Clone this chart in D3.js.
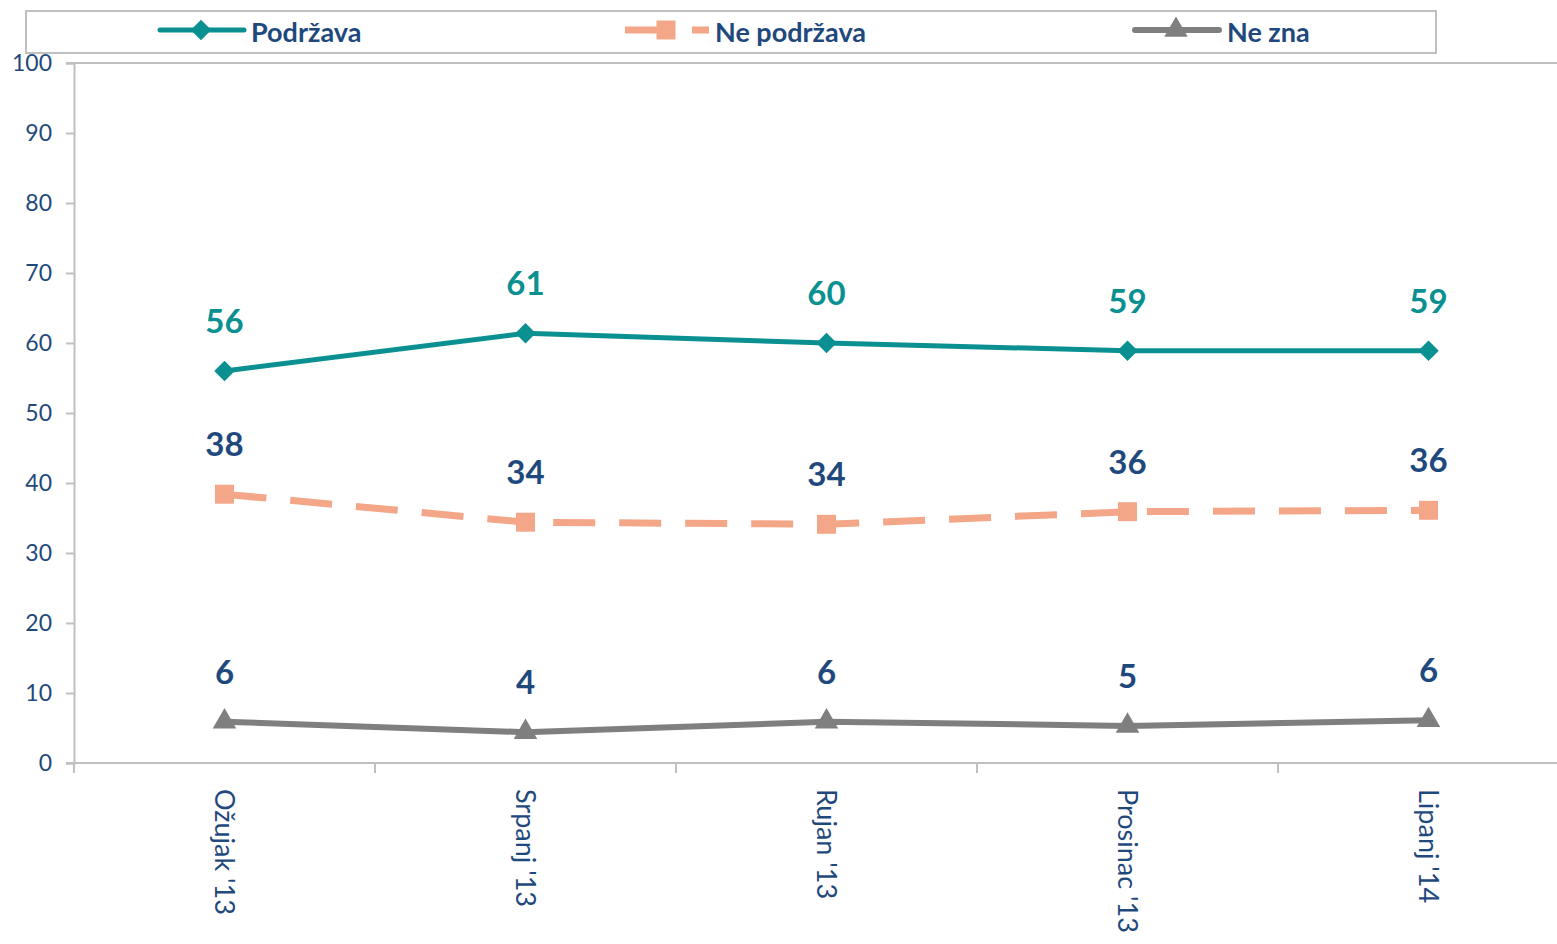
<!DOCTYPE html>
<html>
<head>
<meta charset="utf-8">
<script src="https://cdn.jsdelivr.net/npm/d3@7"></script>
<style>
  body { margin: 0; background: #fff; }
  svg { display: block; font-family: Lato, "Open Sans", sans-serif; }
</style>
</head>
<body>
<svg id="chart" width="1557" height="944"></svg>
<script>
// data
var months = ["Ožujak '13", "Srpanj '13", "Rujan '13", "Prosinac '13", "Lipanj '14"];
var podrzava = [56, 61.4, 60, 58.9, 58.9];
var nePodrzava = [38.4, 34.4, 34.1, 35.9, 36.1];
var neZna = [5.9, 4.4, 5.9, 5.3, 6.1];
var yTicks = [0, 10, 20, 30, 40, 50, 60, 70, 80, 90, 100];

var series = [
  {name: "Podržava", values: podrzava, color: "#0a9090", label: "#0a9090", dash: null, width: 5, symbol: d3.symbolSquare, rot: 45, size: 210},
  {name: "Ne podržava", values: nePodrzava, color: "#f4a688", label: "#1f497d", dash: "42,24", width: 7, symbol: d3.symbolSquare, rot: 0, size: 360},
  {name: "Ne zna", values: neZna, color: "#7f7f7f", label: "#1f497d", dash: null, width: 6, symbol: d3.symbolTriangle, rot: 0, size: 240}
];

var svg = d3.select("#chart"),
  margin = {top: 63, left: 74},
  plotW = 1505,
  plotH = 700,
  g = svg.append("g").attr("transform", "translate(" + margin.left + "," + margin.top + ")");

var x = d3.scaleBand().domain(months).range([0, plotW]);
var y = d3.scaleLinear().domain([0, 100]).range([plotH, 0]);

// top border of plot area
g.append("line")
  .attr("x1", -8).attr("x2", 1557)
  .attr("y1", 0).attr("y2", 0)
  .attr("stroke", "#c0c0c0").attr("stroke-width", 2);

// y axis
var yAxis = g.append("g")
  .call(d3.axisLeft(y).tickValues(yTicks).tickSize(8).tickPadding(14));
yAxis.select(".domain").attr("stroke", "#c0c0c0").attr("stroke-width", 2);
yAxis.selectAll(".tick line").attr("stroke", "#c0c0c0").attr("stroke-width", 2);
yAxis.selectAll("text")
  .attr("fill", "#1f497d")
  .style("font-size", "23px")
  .style("font-family", "Lato, 'Open Sans', sans-serif");

// x axis: ticks sit between categories
var xAxisG = g.append("g").attr("transform", "translate(0," + plotH + ")");
xAxisG.append("line")
  .attr("x1", -8).attr("x2", 1557)
  .attr("stroke", "#c0c0c0").attr("stroke-width", 2);
xAxisG.selectAll(".xtick")
  .data(months)
  .enter().append("line")
    .attr("class", "xtick")
    .attr("x1", function(d) { return x(d); })
    .attr("x2", function(d) { return x(d); })
    .attr("y1", 0).attr("y2", 10)
    .attr("stroke", "#c0c0c0").attr("stroke-width", 2);
xAxisG.selectAll(".xlabel")
  .data(months)
  .enter().append("text")
    .attr("class", "xlabel")
    .attr("transform", function(d) { return "translate(" + (x(d) + x.bandwidth() / 2) + ",26) rotate(90)"; })
    .attr("dy", "0.35em")
    .attr("text-anchor", "start")
    .attr("fill", "#1f497d")
    .style("font-size", "27px")
    .text(function(d) { return d; });

// lines, markers and value labels
var line = d3.line()
  .x(function(d, i) { return x(months[i]) + x.bandwidth() / 2; })
  .y(function(d) { return y(d); });

series.forEach(function(s) {
  var sg = g.append("g");
  sg.append("path")
    .datum(s.values)
    .attr("d", line)
    .attr("fill", "none")
    .attr("stroke", s.color)
    .attr("stroke-width", s.width)
    .attr("stroke-dasharray", s.dash);

  sg.selectAll(".marker")
    .data(s.values)
    .enter().append("path")
      .attr("class", "marker")
      .attr("transform", function(d, i) { return "translate(" + (x(months[i]) + x.bandwidth() / 2) + "," + y(d) + ") rotate(" + s.rot + ")"; })
      .attr("d", d3.symbol().type(s.symbol).size(s.size))
      .attr("fill", s.color);

  sg.selectAll(".vlabel")
    .data(s.values)
    .enter().append("text")
      .attr("class", "vlabel")
      .attr("x", function(d, i) { return x(months[i]) + x.bandwidth() / 2; })
      .attr("y", function(d) { return y(d) - 38; })
      .attr("text-anchor", "middle")
      .attr("fill", s.label)
      .style("font-size", "33px")
      .style("font-weight", "bold")
      .text(function(d) { return Math.round(d); });
});

// legend
var legendBox = svg.append("g");
legendBox.append("rect")
  .attr("x", 26).attr("y", 11)
  .attr("width", 1410).attr("height", 42)
  .attr("fill", "#fff")
  .attr("stroke", "#c0c0c0").attr("stroke-width", 2);

var legendPos = [158, 623, 1133];
var legend = svg.selectAll(".legend")
  .data(series)
  .enter().append("g")
    .attr("class", "legend")
    .attr("transform", function(d, i) { return "translate(" + legendPos[i] + ",30)"; });

legend.append("line")
  .attr("x1", 2).attr("x2", 86)
  .attr("stroke", function(d) { return d.color; })
  .attr("stroke-width", function(d) { return d.width; })
  .attr("stroke-linecap", function(d) { return d.dash ? "butt" : "round"; })
  .attr("stroke-dasharray", function(d) { return d.dash ? "50,17" : null; });

legend.append("path")
  .attr("transform", function(d) { return "translate(43,0) rotate(" + d.rot + ")"; })
  .attr("d", function(d) { return d3.symbol().type(d.symbol).size(d.size)(); })
  .attr("fill", function(d) { return d.color; });

legend.append("text")
  .attr("x", function(d, i) { return [93, 92, 94][i]; })
  .attr("y", 3)
  .attr("dy", "0.35em")
  .attr("fill", "#1f497d")
  .style("font-size", "27px")
  .style("font-weight", "bold")
  .text(function(d) { return d.name; });
</script>
</body>
</html>
